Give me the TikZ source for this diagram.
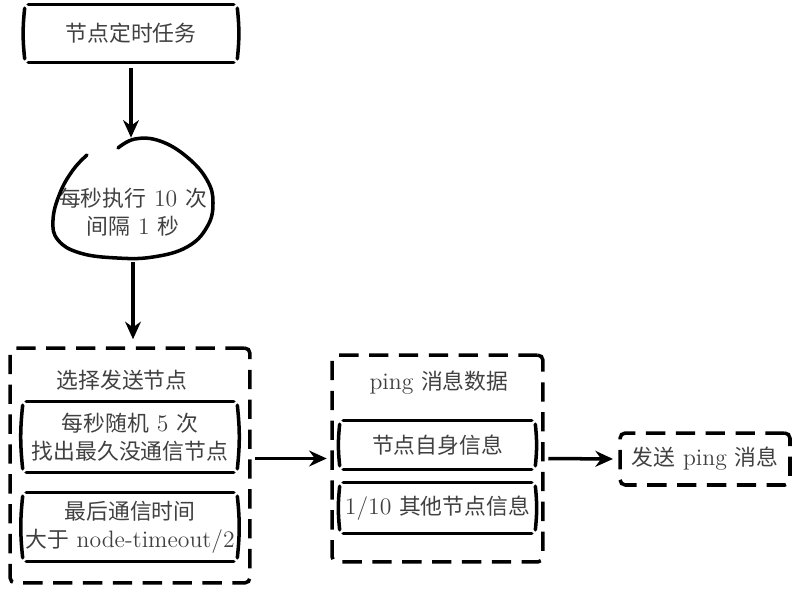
\documentclass[tikz,border=0pt]{standalone}
\usepackage{fontspec}
\usepackage{tikz}
\usetikzlibrary{arrows.meta}
\newfontfamily\cjk[Scale=0.92]{Noto Sans CJK SC}

% cadru desenat de mana: linii sus/jos si paranteze laterale
\newcommand{\handbox}[1]{%
  \draw[sketch] ([xshift=2pt]#1.north west) -- ([xshift=-2pt]#1.north east);
  \draw[sketch] ([xshift=2pt]#1.south west) -- ([xshift=-2pt]#1.south east);
  \draw[sketch] ([yshift=-2pt]#1.north west) to[bend right=6] ([yshift=2pt]#1.south west);
  \draw[sketch] ([yshift=-2pt]#1.north east) to[bend left=6] ([yshift=2pt]#1.south east);
}

\begin{document}
\begin{tikzpicture}[x=0.02cm,y=-0.02cm]
\tikzset{
    sketch/.style={
        line width=2pt, line cap=round, draw=black
    },
    dash box/.style={
        draw=black, line width=2pt,
        dash pattern=on 11pt off 6pt, rounded corners=3pt
    },
    label text/.style={
        text=black!75, align=center, inner sep=0pt,
        font=\fontsize{13.5}{16}\selectfont
    },
    arrow/.style={
        line width=2pt, -{Stealth[length=10pt,width=9pt]}, draw=black
    }
}
\useasboundingbox (0,0) rectangle (797,594);

% Sarcina periodica
\node[label text, minimum width=4.24cm, minimum height=1.14cm] (task) at (131,33.5) {{\cjk 节点定时任务}};
\handbox{task}

% Bucla
\node[minimum width=3.2cm, minimum height=2.4cm] (loop) at (133,198) {};
\node[label text] (looptext) at (133,212) {{\cjk 每秒执行} 10 {\cjk 次}\\{\cjk 间隔} 1 {\cjk 秒}};
\draw[sketch] plot[smooth, tension=0.7] coordinates {(118,148) (135,139) (160,141) (187,157) (207,180) (213,203) (207,227) (187,247) (153,257) (117,258) (80,253) (58,240) (53,220) (60,193) (73,170) (87,155)};

% Selectie
\node[dash box, minimum width=4.8cm, minimum height=4.7cm] (select) at (130,465.5) {};
\node[label text] (selecttitle) at (122,380) {{\cjk 选择发送节点}};
\node[label text, minimum width=4.28cm, minimum height=1.4cm] (pick) at (130,437) {{\cjk 每秒随机} 5 {\cjk 次}\\{\cjk 找出最久没通信节点}};
\handbox{pick}
\node[label text, minimum width=4.28cm, minimum height=1.36cm] (timeout) at (130,527) {{\cjk 最后通信时间}\\{\cjk 大于} node-timeout/2};
\handbox{timeout}

% Mesaj ping
\node[dash box, minimum width=4.22cm, minimum height=4.14cm] (ping) at (437.5,458.5) {};
\node[label text] (pingtitle) at (439,383) {ping {\cjk 消息数据}};
\node[label text, minimum width=3.9cm, minimum height=0.96cm] (self) at (437.5,445) {{\cjk 节点自身信息}};
\handbox{self}
\node[label text, minimum width=3.9cm, minimum height=1.0cm] (others) at (437.5,508) {1/10 {\cjk 其他节点信息}};
\handbox{others}

% Trimitere
\node[dash box, label text, minimum width=3.4cm, minimum height=1.04cm] (send) at (705,459) {{\cjk 发送} ping {\cjk 消息}};

% Sageti
\draw[arrow, shorten <=3pt] (task.south) -- (task.south |- loop.north);
\draw[arrow, shorten <=2pt, shorten >=4pt] (loop.south) -- (loop.south |- select.north);
\draw[arrow, shorten <=2pt, shorten >=2pt] (select.east |- ping) -- (ping.west);
\draw[arrow, shorten <=2pt, shorten >=3pt] (ping.east) -- (send.west);
\end{tikzpicture}
\end{document}
